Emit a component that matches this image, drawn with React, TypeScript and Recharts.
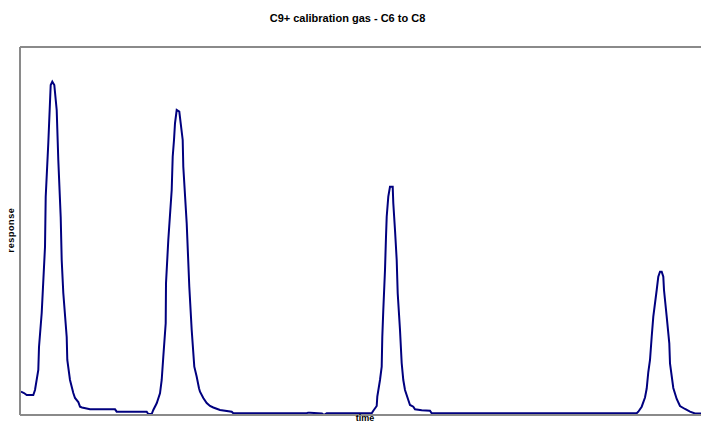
import React from "react";
import { LineChart, Line, XAxis, YAxis } from "recharts";

const chartTitle = "C9+ calibration gas - C6 to C8";
const xLabel = "time";
const yLabel = "response";

// elapsed time (arbitrary units)
const time: number[] = [
  // peak C6
  1, 4, 6.7, 13.3, 15, 18.3, 19, 21.7, 25, 25.7, 28.3, 30.7, 32.3, 34.3, 36.7, 38.3, 40.7, 41.7, 43.3, 46.7, 47.3, 50, 53.3, 55, 58.3, 60, 62, 70, 95, 96.7,
  // peak C7
  126.7, 128.3, 131.7, 133.3, 136.7, 140, 141.7, 143.3, 145.7, 146, 148.3, 151.7, 152.7, 154, 155, 156.7, 159.3, 160.7, 162.7, 163.3, 166.7, 169.3, 171.7, 174.3, 176.7, 179, 180, 183.3, 186.7, 190, 193.3, 200, 211.7, 213.3,
  // baseline
  286.7, 288, 290, 302, 303.3, 305, 306.7,
  // peak C8
  351.7, 353.3, 356.7, 357.3, 360, 361.7, 362.3, 363.3, 365, 366, 366.7, 368.3, 370, 372.7, 373.3, 375, 376.7, 377.7, 380, 381.7, 383.3, 385, 388.3, 390, 393.3, 395, 401.7, 410, 411.7,
  // peak C9+
  616.7, 618.3, 621.7, 625, 626.7, 628.3, 630, 631.7, 633.3, 636.7, 638.3, 640, 641.7, 643.3, 644, 646.7, 649.3, 650, 653.3, 656.7, 660, 665, 670, 675, 681,
];

// detector response
const response: number[] = [
  // peak C6
  23.3, 22, 20, 20, 25, 45, 68, 102, 168, 218, 272, 330, 333.3, 330, 305, 255, 198, 155, 122, 78, 55, 35, 22, 17, 13, 8.3, 7.5, 5.7, 5.7, 3.3,
  // peak C7
  3.3, 1, 1, 5, 11.7, 21.7, 35, 58.3, 91.7, 131.7, 175, 225, 258.3, 275, 291.7, 305, 303.3, 291.7, 275, 248.3, 191.7, 128.3, 85, 48.3, 38.3, 26.7, 23.3, 17, 12, 9, 7.5, 5, 3.3, 1.7,
  // baseline
  1.7, 2.3, 2.3, 1.5, 0.5, 0.7, 1.7,
  // peak C8
  1.7, 4.3, 9, 18.3, 35, 48.3, 78.3, 105, 145, 178.3, 198.3, 218.3, 228.3, 228.3, 211.7, 185, 155, 121.7, 85, 51.7, 35, 25, 15, 10, 8.3, 5.7, 4.8, 4.3, 1.7,
  // peak C9+
  1.7, 3.3, 8.3, 17.5, 26.5, 43, 55, 78.3, 98.3, 125, 138.3, 143.3, 143.3, 138.3, 125, 98.3, 71.7, 51.7, 27, 16, 9, 6, 3.3, 1.5, 1.5,
];

const data = time.map((t, i) => ({ t, v: response[i] }));

const font = "Arial, 'Liberation Sans', sans-serif";
const frame = { stroke: "#8a8a8a", strokeWidth: 2 };

export default function App() {
  return (
    <div style={{ position: "absolute", left: 0, top: 0, width: 701, height: 423, overflow: "hidden", background: "#fff" }}>
      <div
        style={{
          position: "absolute",
          left: 0,
          top: 12,
          width: 695,
          textAlign: "center",
          fontFamily: font,
          fontWeight: "bold",
          fontSize: 11,
          lineHeight: "13px",
          color: "#000",
        }}
      >
        {chartTitle}
      </div>
      <LineChart width={701} height={423} data={data} margin={{ top: 46, right: 0, left: 19, bottom: 7 }}>
        <XAxis
          dataKey="t"
          type="number"
          domain={[0, 681]}
          allowDataOverflow
          height={1}
          tick={false}
          tickLine={false}
          axisLine={frame}
        />
        <XAxis
          xAxisId="top"
          orientation="top"
          type="number"
          domain={[0, 681]}
          height={1}
          tick={false}
          tickLine={false}
          axisLine={frame}
        />
        <YAxis
          type="number"
          domain={[0, 368]}
          allowDataOverflow
          width={1}
          tick={false}
          tickLine={false}
          axisLine={frame}
        />
        <Line
          dataKey="v"
          type="linear"
          stroke="#00007f"
          strokeWidth={2}
          dot={false}
          activeDot={false}
          isAnimationActive={false}
        />
      </LineChart>
      <div
        style={{
          position: "absolute",
          left: 11,
          top: 230,
          transform: "translate(-50%, -50%) rotate(-90deg)",
          fontFamily: font,
          fontWeight: "bold",
          fontSize: 9,
          letterSpacing: 0.6,
          whiteSpace: "nowrap",
          color: "#000",
        }}
      >
        {yLabel}
      </div>
      <div
        style={{
          position: "absolute",
          left: 365,
          top: 413,
          transform: "translateX(-50%)",
          fontFamily: font,
          fontWeight: "bold",
          fontSize: 9,
          lineHeight: "10px",
          whiteSpace: "nowrap",
          color: "#000",
        }}
      >
        {xLabel}
      </div>
    </div>
  );
}
